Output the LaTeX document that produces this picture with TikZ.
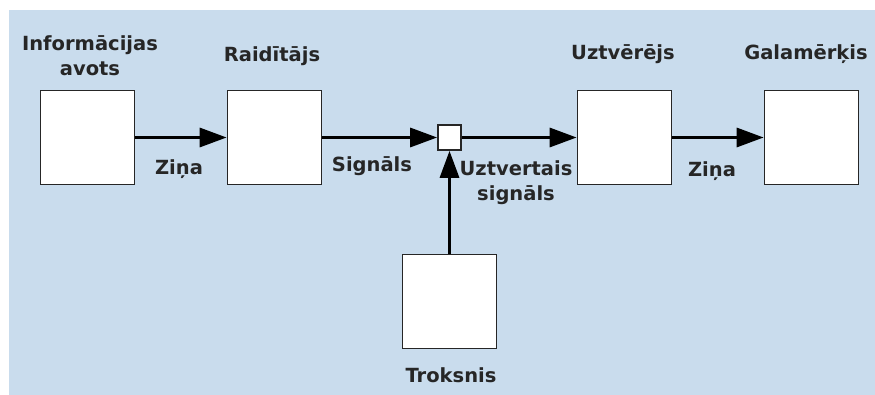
\documentclass[tikz,border=0pt]{standalone}
\usepackage{fontspec}
\setmainfont{DejaVu Sans}
\usetikzlibrary{arrows.meta,positioning}

\definecolor{bgblue}{RGB}{201,220,237}

\tikzset{
  blk/.style={draw=black!85, fill=white, line width=1.7pt, minimum width=94pt, minimum height=94pt, inner sep=0pt},
  lbl/.style={font=\fontsize{19.5}{25}\selectfont\bfseries, text=black!85, align=center, inner sep=0pt},
  sig/.style={line width=3.2pt, -{Triangle[length=27pt, width=19pt]}}
}

\begin{document}
\begin{tikzpicture}[x=1pt, y=-1pt]
  \fill[white] (0,0) rectangle (875,395);
  \fill[bgblue] (9,10) rectangle (875,395);
  \useasboundingbox (0,0) rectangle (875,395);

  % blocks
  \node (src) [blk] at (87.5,137.5) {};
  \node (tx) [blk] at (274.5,137.5) {};
  \node (sum) [blk, minimum width=23pt, minimum height=25pt] at (449.5,137.5) {};
  \node (rx) [blk] at (624.5,137.5) {};
  \node (dst) [blk] at (811.5,137.5) {};
  \node (noise) [blk] at (449.5,301.5) {};

  % names
  \node (srcname) [lbl] at (90,55.5) {Informācijas\\avots};
  \node (txname) [lbl, anchor=base] at (272,62) {Raidītājs};
  \node (rxname) [lbl, anchor=base] at (623,60) {Uztvērējs};
  \node (dstname) [lbl, anchor=base] at (806,60) {Galamērķis};
  \node (noisename) [lbl, anchor=base] at (451,382) {Troksnis};

  % signal labels
  \node (msgA) [lbl, anchor=base] at (179,175) {Ziņa};
  \node (sigA) [lbl, anchor=base] at (372,172) {Signāls};
  \node (sigB) [lbl] at (516,183) {Uztvertais\\signāls};
  \node (msgB) [lbl, anchor=base] at (712,177) {Ziņa};

  \path [sig]
  (src.east) edge (tx.west)
  (tx.east) edge (sum.west)
  (sum.east) edge (rx.west)
  (rx.east) edge (dst.west)
  (noise.north) edge (sum.south);
\end{tikzpicture}
\end{document}
